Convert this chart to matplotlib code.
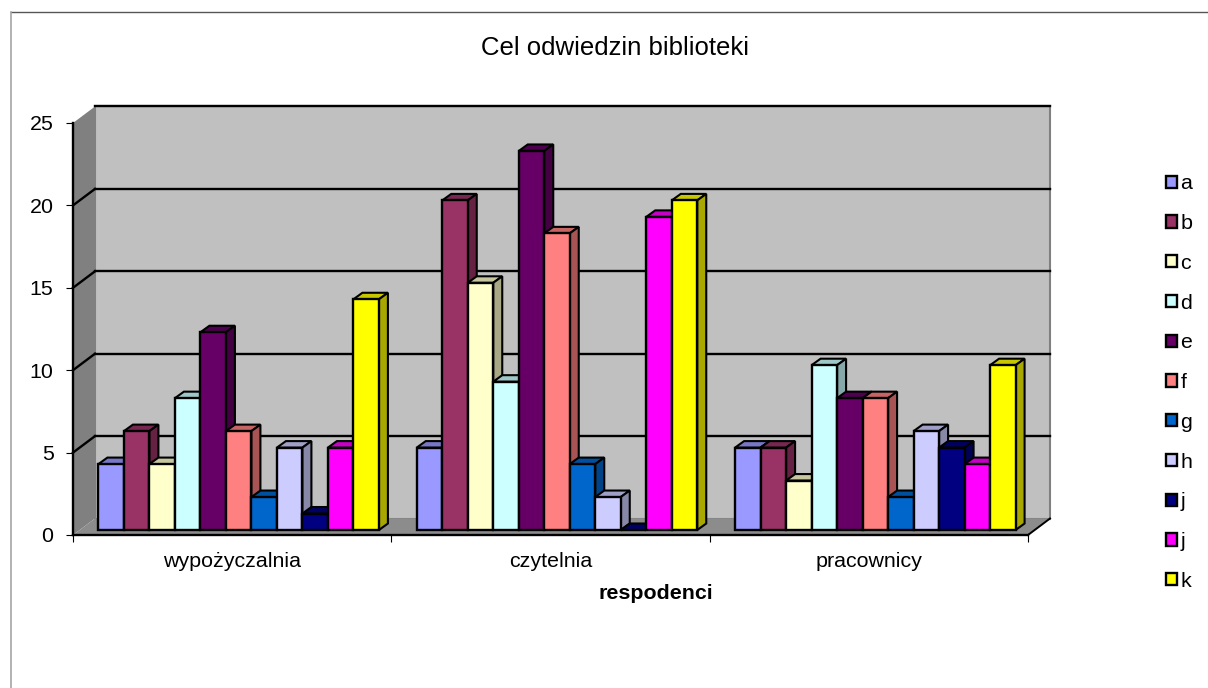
import matplotlib
matplotlib.use('Agg')
import matplotlib.pyplot as plt
from matplotlib.patches import Patch, Polygon
from matplotlib.lines import Line2D
from matplotlib.colors import to_rgb

plt.rcParams['font.family'] = ['Liberation Sans', 'DejaVu Sans']

# Data
categories = ['wypożyczalnia', 'czytelnia', 'pracownicy']
labels = ['a', 'b', 'c', 'd', 'e', 'f', 'g', 'h', 'j', 'j', 'k']
a = [4, 5, 5]
b = [6, 20, 5]
c = [4, 15, 3]
d = [8, 9, 10]
e = [12, 23, 8]
f = [6, 18, 8]
g = [2, 4, 2]
h = [5, 2, 6]
j1 = [1, 0, 5]
j2 = [5, 19, 4]
k = [14, 20, 10]
series = [a, b, c, d, e, f, g, h, j1, j2, k]
colors = ['#9999FF', '#993366', '#FFFFCC', '#CCFFFF', '#660066', '#FF8080',
          '#0066CC', '#CCCCFF', '#000080', '#FF00FF', '#FFFF00']
y_ticks = [0, 5, 10, 15, 20, 25]

W, H = 1208, 688
FS = 15.4
fig = plt.figure(figsize=(W / 100, H / 100), dpi=100)
ax = fig.add_axes([73 / W, (H - 535) / H, 955 / W, 412 / H])
ax.set_xlim(-0.5, 2.5)
ax.set_ylim(0, 25)

# pixel sizes converted to data units, for the fake 3D depth
ux = 3 / 955
uy = 25 / 412
wall_dx, wall_dy = 22 * ux, 16.5 * uy
gap_dx, gap_dy = 6.5 * ux, 5 * uy
bar_dx, bar_dy = 9 * ux, 6.5 * uy
bar_w = 25.5 * ux


def shade(color, factor):
    return tuple(v * factor for v in to_rgb(color))


# Walls and floor
ax.add_patch(Polygon([(-0.5 + wall_dx, wall_dy), (2.5 + wall_dx, wall_dy),
                      (2.5 + wall_dx, 25 + wall_dy), (-0.5 + wall_dx, 25 + wall_dy)],
                     facecolor='#C0C0C0', edgecolor='#808080', lw=1.5, clip_on=False, zorder=1))
ax.add_patch(Polygon([(-0.5, 0), (-0.5 + wall_dx, wall_dy),
                      (-0.5 + wall_dx, 25 + wall_dy), (-0.5, 25)],
                     facecolor='#808080', edgecolor='none', clip_on=False, zorder=1))
ax.add_patch(Polygon([(-0.5, 0), (2.5, 0), (2.5 + wall_dx, wall_dy), (-0.5 + wall_dx, wall_dy)],
                     facecolor='#8C8C8C', edgecolor='none', clip_on=False, zorder=1))

# Gridlines run over the side wall and the back wall
for v in y_ticks[1:]:
    if v < 25:
        ax.plot([-0.5, -0.5 + wall_dx], [v, v + wall_dy], color='black', lw=1.7,
                clip_on=False, zorder=2)
    ax.plot([-0.5 + wall_dx, 2.5 + wall_dx], [v + wall_dy, v + wall_dy], color='black', lw=1.7,
            clip_on=False, zorder=2)
ax.plot([2.5, 2.5 + wall_dx], [0, wall_dy], color='black', lw=1.4, clip_on=False, zorder=2)

# Bars, drawn left to right so each front hides the previous side
for cat in range(len(categories)):
    for i, vals in enumerate(series):
        col = colors[i]
        v = vals[cat]
        left = cat - 0.5 * bar_w * len(series) + i * bar_w + gap_dx
        right = left + bar_w
        base = gap_dy
        top = base + v
        ax.add_patch(Polygon([(left, top), (right, top), (right + bar_dx, top + bar_dy),
                              (left + bar_dx, top + bar_dy)],
                             facecolor=shade(col, 0.78), edgecolor='black', lw=1.5,
                             clip_on=False, zorder=3))
        ax.add_patch(Polygon([(right, base), (right, top), (right + bar_dx, top + bar_dy),
                              (right + bar_dx, base + bar_dy)],
                             facecolor=shade(col, 0.66), edgecolor='black', lw=1.5,
                             clip_on=False, zorder=3))
        ax.bar(left, v, width=bar_w, bottom=base, align='edge', color=col, edgecolor='black',
               lw=1.7, clip_on=False, zorder=3)

ax.set_xlim(-0.5, 2.5)
ax.set_ylim(0, 25)

for side in ['top', 'right']:
    ax.spines[side].set_visible(False)
for side in ['left', 'bottom']:
    ax.spines[side].set_linewidth(1.7)
    ax.spines[side].set_zorder(2.5)
ax.patch.set_visible(False)

ax.set_yticks(y_ticks)
ax.set_xticks([-0.5, 0.5, 1.5, 2.5])
ax.set_xticklabels([])
ax.set_xticks([0, 1, 2], minor=True)
ax.set_xticklabels(categories, minor=True, fontsize=FS)
ax.tick_params(axis='x', which='major', length=5, width=0.8)
ax.tick_params(axis='x', which='minor', length=0, pad=12.5)
ax.tick_params(axis='y', length=5, width=0.8, labelsize=FS, pad=9)
ax.set_xlabel('respodenci', x=(656 - 73) / 955, fontsize=FS, fontweight='bold', labelpad=9)

fig.text(615 / W, 1 - 48 / H, 'Cel odwiedzin biblioteki', ha='center', va='center', fontsize=18.5)

handles = [Patch(facecolor=col, edgecolor='black', lw=1.7) for col in colors]
ax.legend(handles, labels, loc='upper left', bbox_to_anchor=(1160 / W, 1 - 168 / H),
          bbox_transform=fig.transFigure, frameon=False, fontsize=FS,
          handlelength=0.5, handleheight=0.5, handletextpad=0.15, labelspacing=0.97,
          borderpad=0.3, borderaxespad=0)

# Chart area border, only top and left fall inside the picture
fig.add_artist(Line2D([10.5 / W, 1], [1 - 11.5 / H, 1 - 11.5 / H], color='#555555', lw=1))
fig.add_artist(Line2D([10.5 / W, 10.5 / W], [0, 1 - 11.5 / H], color='#A6A6A6', lw=1.2))

fig.savefig('out.png', dpi=100)
